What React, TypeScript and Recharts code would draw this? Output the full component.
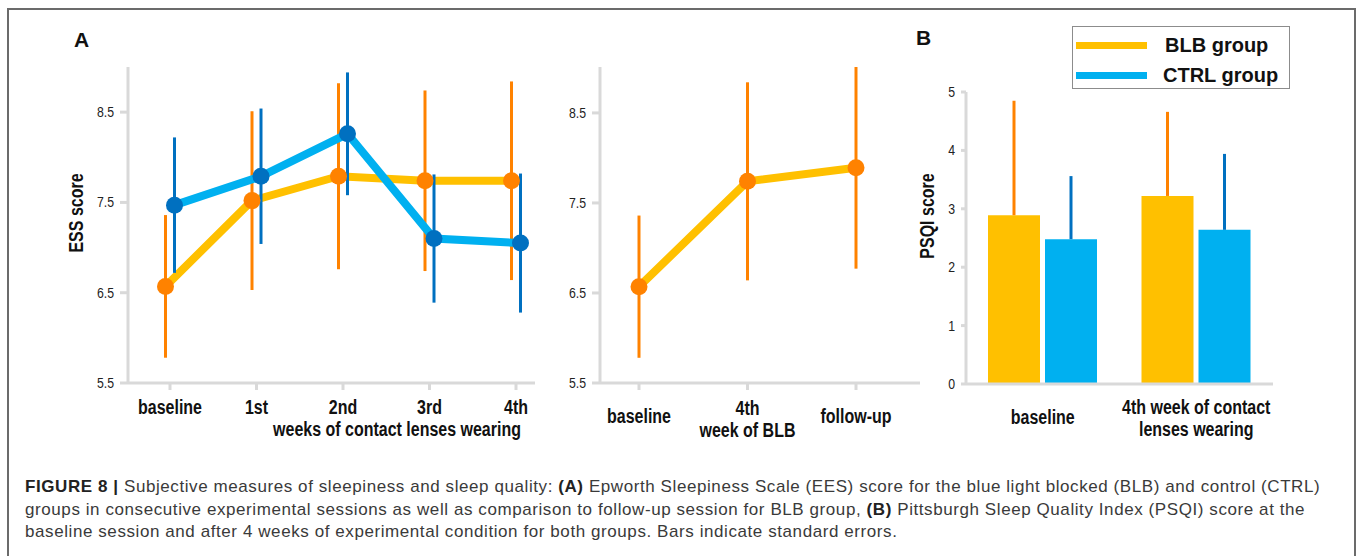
import { Bar, BarChart, ErrorBar, Legend, Line, LineChart, XAxis, YAxis } from 'recharts';

// Panel A, left: ESS by week, both groups
const essWeeks = ['baseline', '1st', '2nd', '3rd', '4th'];
const essBlb = [6.57, 7.52, 7.79, 7.74, 7.74];
const essBlbSe = [0.79, 0.99, 1.03, 1.0, 1.1];
const essCtrl = [7.47, 7.79, 8.26, 7.1, 7.05];
const essCtrlSe = [0.75, 0.75, 0.68, 0.71, 0.77];
const essTicks = [5.5, 6.5, 7.5, 8.5];

// Panel A, right: BLB group incl. follow-up
const blbSessions = ['baseline', '4th\nweek of BLB', 'follow-up'];
const blbSessionEss = [6.57, 7.74, 7.89];
const blbSessionSe = [0.79, 1.1, 1.12];

// Panel B: PSQI
const psqiSessions = ['baseline', '4th week of contact\nlenses wearing'];
const psqiBlb = [2.89, 3.22];
const psqiBlbSe = [1.96, 1.44];
const psqiCtrl = [2.48, 2.64];
const psqiCtrlSe = [1.08, 1.3];
const psqiTicks = [0, 1, 2, 3, 4, 5];

const ORANGE = '#ff8200';
const YELLOW = '#ffc000';
const BLUE = '#0070c0';
const SKY = '#00b0f0';
const AXIS = '#d9d9d9';
const SANS = '"Liberation Sans", Arial, Helvetica, sans-serif';
// no Arial Narrow here, so squeeze Liberation Sans horizontally
const NARROW_X = 0.82;

const essData = essWeeks.map((week, i) => ({
  week,
  blb: essBlb[i],
  blbSe: essBlbSe[i],
  ctrl: essCtrl[i],
  ctrlSe: essCtrlSe[i],
}));

const followData = blbSessions.map((session, i) => ({
  session,
  blb: blbSessionEss[i],
  blbSe: blbSessionSe[i],
}));

const psqiData = psqiSessions.map((session, i) => ({
  session,
  blb: psqiBlb[i],
  blbErr: [0, psqiBlbSe[i]],
  ctrl: psqiCtrl[i],
  ctrlErr: [0, psqiCtrlSe[i]],
}));

const axisLine = { stroke: AXIS, strokeWidth: 3 };

function NarrowText({ x, y, text, bold, size, anchor = 'middle', rotate }: any) {
  const tf = `translate(${x} ${y})${rotate ? ' rotate(-90)' : ''} scale(${NARROW_X} 1)`;
  return (
    <text
      x={0}
      y={0}
      transform={tf}
      textAnchor={anchor}
      dominantBaseline="central"
      fill={bold ? '#111' : '#222'}
      fontSize={size}
      fontWeight={bold ? 'bold' : 'normal'}
      fontFamily={SANS}
    >
      {text}
    </text>
  );
}

function YTick(props: any) {
  const { x, y, payload } = props;
  return <NarrowText x={x} y={y} text={String(payload.value)} size={15} anchor="end" />;
}

function CategoryTick(props: any) {
  const { x, y, payload, single, double } = props;
  const lines = String(payload.value).split('\n');
  const starts = lines.length === 1 ? [single] : double;
  return (
    <g>
      {lines.map((t: string, i: number) => (
        <NarrowText key={i} x={x} y={y + starts[i]} text={t} size={19.5} bold />
      ))}
    </g>
  );
}

function LegendBox({ payload }: any) {
  return (
    <div
      style={{
        width: 216,
        height: 61,
        border: '1px solid #8c8c8c',
        background: '#fff',
        position: 'relative',
        fontFamily: SANS,
      }}
    >
      {(payload ?? []).map((item: any, i: number) => (
        <div key={item.value} style={{ position: 'absolute', left: 3, top: 8 + i * 30, height: 20, display: 'flex', alignItems: 'center' }}>
          <span style={{ display: 'inline-block', width: 71, height: 7, background: item.color }} />
          <span style={{ marginLeft: i === 0 ? 18 : 16, fontSize: 20, fontWeight: 'bold', color: '#111' }}>{item.value}</span>
        </div>
      ))}
    </div>
  );
}

export default function App() {
  return (
    <div style={{ position: 'absolute', left: 0, top: 0, width: 1357, height: 556, background: '#fff', overflow: 'hidden' }}>
      <div style={{ position: 'absolute', left: 7, top: 8, width: 1345, height: 560, border: '2px solid #6b6b6b' }} />

      <div style={{ position: 'absolute', left: 74, top: 28, fontFamily: SANS, fontWeight: 'bold', fontSize: 21, color: '#111' }}>A</div>
      <div style={{ position: 'absolute', left: 916, top: 26, fontFamily: SANS, fontWeight: 'bold', fontSize: 21, color: '#111' }}>B</div>

      {/* Panel A, weekly sessions */}
      <div style={{ position: 'absolute', left: 0, top: 0 }}>
        <LineChart width={560} height={450} data={essData} margin={{ top: 67, right: 25, left: 0, bottom: 0 }}>
          <XAxis
            xAxisId="v"
            dataKey="week"
            height={67}
            padding={{ left: 42, right: 19 }}
            axisLine={axisLine}
            tickLine={{ stroke: AXIS, strokeWidth: 3 }}
            tickSize={7}
            interval={0}
            tick={(p: any) => <CategoryTick {...p} single={15} double={[15, 37]} />}
            label={{ content: () => <NarrowText x={397} y={429} text="weeks of contact lenses wearing" size={19.5} bold /> }}
          />
          <XAxis xAxisId="blb" dataKey="week" hide height={0} padding={{ left: 37.5, right: 23.5 }} />
          <XAxis xAxisId="ctrl" dataKey="week" hide height={0} padding={{ left: 46.5, right: 14.5 }} />
          <YAxis
            width={128}
            domain={[5.5, 9]}
            ticks={essTicks}
            axisLine={axisLine}
            tickLine={{ stroke: AXIS, strokeWidth: 3 }}
            tickSize={8}
            tickMargin={6}
            tick={(p: any) => <YTick {...p} />}
            label={{ content: () => <NarrowText x={76} y={213} text="ESS score" size={19.5} bold rotate /> }}
          />
          <Line
            xAxisId="blb"
            dataKey="blb"
            stroke={YELLOW}
            strokeWidth={8}
            dot={{ r: 8.5, fill: ORANGE, stroke: ORANGE, strokeWidth: 0 }}
            activeDot={false}
            isAnimationActive={false}
          >
            <ErrorBar dataKey="blbSe" direction="y" width={0} stroke={ORANGE} strokeWidth={3} />
          </Line>
          <Line
            xAxisId="ctrl"
            dataKey="ctrl"
            stroke={SKY}
            strokeWidth={8}
            dot={{ r: 8.5, fill: BLUE, stroke: BLUE, strokeWidth: 0 }}
            activeDot={false}
            isAnimationActive={false}
          >
            <ErrorBar dataKey="ctrlSe" direction="y" width={0} stroke={BLUE} strokeWidth={3} />
          </Line>
        </LineChart>
      </div>

      {/* Panel A, BLB with follow-up */}
      <div style={{ position: 'absolute', left: 520, top: 0 }}>
        <LineChart width={420} height={450} data={followData} margin={{ top: 67, right: 20, left: 0, bottom: 0 }}>
          <XAxis
            dataKey="session"
            height={67}
            padding={{ left: 39, right: 64 }}
            axisLine={axisLine}
            tickLine={{ stroke: AXIS, strokeWidth: 3 }}
            tickSize={7}
            interval={0}
            tick={(p: any) => <CategoryTick {...p} single={24} double={[16, 38]} />}
          />
          <YAxis
            width={80}
            domain={[5.5, 9]}
            ticks={essTicks}
            axisLine={axisLine}
            tickLine={{ stroke: AXIS, strokeWidth: 3 }}
            tickSize={8}
            tickMargin={6}
            tick={(p: any) => <YTick {...p} />}
          />
          <Line
            dataKey="blb"
            stroke={YELLOW}
            strokeWidth={8}
            dot={{ r: 8.5, fill: ORANGE, stroke: ORANGE, strokeWidth: 0 }}
            activeDot={false}
            isAnimationActive={false}
          >
            <ErrorBar dataKey="blbSe" direction="y" width={0} stroke={ORANGE} strokeWidth={3} />
          </Line>
        </LineChart>
      </div>

      {/* Panel B, PSQI */}
      <div style={{ position: 'absolute', left: 900, top: 0 }}>
        <BarChart
          width={400}
          height={450}
          data={psqiData}
          margin={{ top: 92, right: 27, left: 0, bottom: 0 }}
          barCategoryGap={22}
          barGap={5}
        >
          <XAxis
            xAxisId="edge"
            type="number"
            domain={[0, 2]}
            ticks={[0, 1, 2]}
            height={0}
            tick={false}
            axisLine={false}
            tickLine={{ stroke: AXIS, strokeWidth: 3 }}
            tickSize={7}
          />
          <XAxis
            xAxisId="cat"
            dataKey="session"
            height={66}
            axisLine={axisLine}
            tickLine={false}
            tickSize={0}
            interval={0}
            tick={(p: any) => <CategoryTick {...p} single={31} double={[21, 43]} />}
          />
          <YAxis
            width={66}
            domain={[0, 5]}
            ticks={psqiTicks}
            axisLine={axisLine}
            tickLine={{ stroke: AXIS, strokeWidth: 3 }}
            tickSize={5}
            tickMargin={6}
            tick={(p: any) => <YTick {...p} />}
            label={{ content: () => <NarrowText x={27} y={216} text="PSQI score" size={19.5} bold rotate /> }}
          />
          <Legend
            layout="vertical"
            align="center"
            verticalAlign="middle"
            wrapperStyle={{ left: 172, top: 26, width: 218 }}
            content={(p: any) => <LegendBox {...p} />}
          />
          <Bar xAxisId="cat" dataKey="blb" name="BLB group" fill={YELLOW} isAnimationActive={false}>
            <ErrorBar dataKey="blbErr" direction="y" width={0} stroke={ORANGE} strokeWidth={3} />
          </Bar>
          <Bar xAxisId="cat" dataKey="ctrl" name="CTRL group" fill={SKY} isAnimationActive={false}>
            <ErrorBar dataKey="ctrlErr" direction="y" width={0} stroke={BLUE} strokeWidth={3} />
          </Bar>
        </BarChart>
      </div>

      {/* caption */}
      <div
        style={{
          position: 'absolute',
          left: 25,
          top: 476,
          fontFamily: SANS,
          fontSize: 17,
          letterSpacing: 0.58,
          lineHeight: '22.5px',
          color: '#3a3a3a',
          whiteSpace: 'nowrap',
        }}
      >
        <div>
          <b style={{ color: '#222' }}>FIGURE 8 |</b> Subjective measures of sleepiness and sleep quality: <b style={{ color: '#222' }}>(A)</b> Epworth
          Sleepiness Scale (EES) score for the blue light blocked (BLB) and control (CTRL)
        </div>
        <div>
          groups in consecutive experimental sessions as well as comparison to follow-up session for BLB group,{' '}
          <b style={{ color: '#222' }}>(B)</b> Pittsburgh Sleep Quality Index (PSQI) score at the
        </div>
        <div>baseline session and after 4 weeks of experimental condition for both groups. Bars indicate standard errors.</div>
      </div>
    </div>
  );
}
